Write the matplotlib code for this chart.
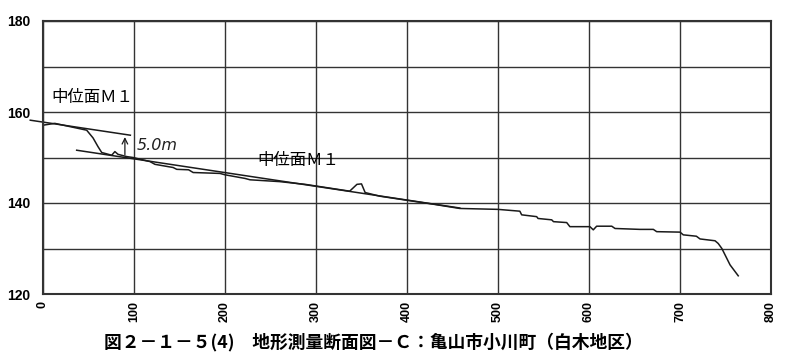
import matplotlib
matplotlib.use("Agg")
import matplotlib.pyplot as plt

plt.rcParams['font.family'] = ['Noto Sans CJK JP', 'DejaVu Sans']

# ground profile (distance m, elevation m)
terrain_x = [0, 13, 48, 55, 60.4, 64.5, 70, 75.5, 79, 82.4, 92, 99, 117.6, 123, 143,
             147, 160, 165, 194.5, 200, 222, 227.5, 260, 288, 337, 345, 350, 354,
             370, 400, 430, 458, 500, 524, 526, 542.5, 544, 559, 561, 575.5, 579,
             601, 604.7, 608.4, 625, 628.6, 656, 670.7, 674.4, 700, 703.6, 718, 722,
             738.5, 742, 746, 755, 764]
terrain_y = [157.1, 157.5, 156.0, 154.3, 152.4, 151.1, 150.8, 150.5, 151.3, 150.7,
             150.2, 150.0, 149.1, 148.5, 147.8, 147.4, 147.3, 146.7, 146.5, 146.2,
             145.4, 145.1, 144.7, 144.1, 142.6, 144.1, 144.2, 142.3, 141.5, 140.6,
             139.7, 138.8, 138.6, 138.2, 137.4, 137.0, 136.6, 136.3, 135.9, 135.7,
             134.8, 134.8, 134.1, 134.9, 134.9, 134.4, 134.2, 134.2, 133.7, 133.6,
             133.0, 132.7, 132.1, 131.7, 131.1, 130.0, 126.4, 124.0]

# middle terrace surface M1 lines
m1_upper_x = [-14, 96]
m1_upper_y = [158.2, 154.9]
m1_lower_x = [37, 458]
m1_lower_y = [151.6, 138.9]

x_ticks = [0, 100, 200, 300, 400, 500, 600, 700, 800]
y_ticks = [120, 130, 140, 150, 160, 170, 180]
y_labels = ['120', '', '140', '', '160', '', '180']

caption = '図２－１－５(4)　地形測量断面図－Ｃ：亀山市小川町（白木地区）'

fig = plt.figure(figsize=(7.92, 3.64), dpi=100)
ax = fig.add_axes([43 / 792, 1 - 294 / 364, (771 - 43) / 792, (294 - 21) / 364])

ax.plot(terrain_x, terrain_y, color='#1a1a1a', lw=1.1)
ax.plot(m1_upper_x, m1_upper_y, color='#1a1a1a', lw=1.1, clip_on=False)
ax.plot(m1_lower_x, m1_lower_y, color='#1a1a1a', lw=1.1)

ax.annotate('', xy=(90, 155.1), xytext=(90, 150.0),
            arrowprops=dict(arrowstyle='->', color='#1a1a1a', lw=0.9))
ax.text(103, 152.6, '5.0m', fontsize=11.5, style='italic', color='#222222',
        family='DejaVu Sans', va='center')
ax.text(9, 163.1, '中位面Ｍ１', fontsize=11.8, va='center')
ax.text(236, 149.4, '中位面Ｍ１', fontsize=11.8, va='center')

ax.set_xlim(0, 800)
ax.set_ylim(120, 180)
ax.set_xticks(x_ticks)
ax.set_yticks(y_ticks)
ax.set_yticklabels(y_labels)
ax.grid(True, color='#333333', lw=1.0)
ax.tick_params(axis='y', length=0, pad=9)
ax.tick_params(axis='x', length=0, pad=5)
for lab in ax.get_xticklabels():
    lab.set_rotation(90)
    lab.set_fontsize(9)
    lab.set_fontweight('bold')
    lab.set_family('Liberation Sans')
for lab in ax.get_yticklabels():
    lab.set_fontsize(10)
    lab.set_fontweight('bold')
    lab.set_family('Liberation Sans')
for s in ax.spines.values():
    s.set_linewidth(1.5)
    s.set_color('#333333')

fig.text(373 / 792, 1 - 342 / 364, caption, ha='center', va='center',
         fontsize=12.8, fontweight='bold')

fig.savefig('out.png', dpi=100)
